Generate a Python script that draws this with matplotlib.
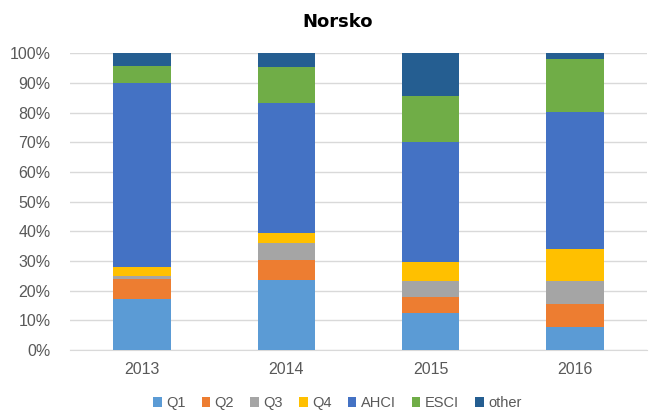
import numpy as np
import matplotlib.pyplot as plt
from matplotlib.ticker import PercentFormatter

plt.rcParams['font.family'] = ['Liberation Sans', 'DejaVu Sans']

years = ['2013', '2014', '2015', '2016']
series = ['Q1', 'Q2', 'Q3', 'Q4', 'AHCI', 'ESCI', 'other']
colors = ['#5B9BD5', '#ED7D31', '#A5A5A5', '#FFC000', '#4472C4', '#70AD47', '#255E91']

# podíly v %
q1 = [17.2, 23.5, 12.4, 7.6]
q2 = [6.6, 6.7, 5.5, 7.9]
q3 = [1.1, 5.8, 5.4, 7.9]
q4 = [3.2, 3.3, 6.4, 10.8]
ahci = [62.0, 43.8, 40.5, 46.1]
esci = [5.6, 12.4, 15.4, 17.8]
other = [4.3, 4.5, 14.4, 1.9]
values = [q1, q2, q3, q4, ahci, esci, other]

fig = plt.figure(figsize=(6.51, 4.16), dpi=100)
ax = fig.add_axes([70 / 651, 66 / 416, 577 / 651, 296.7 / 416])

x = np.arange(len(years))
bottom = np.zeros(len(years))
for name, vals, col in zip(series, values, colors):
    ax.bar(x, vals, 0.4, bottom=bottom, color=col, label=name, zorder=3)
    bottom += np.array(vals)

ax.set_xlim(-0.5, 3.5)
ax.set_ylim(0, 100)
ax.set_yticks(np.arange(0, 101, 10))
ax.yaxis.set_major_formatter(PercentFormatter(decimals=0))
ax.set_xticks(x)
ax.set_xticklabels(years)
ax.grid(axis='y', color='#D9D9D9', linewidth=1, zorder=0)
for s in ax.spines.values():
    s.set_visible(False)
ax.spines['bottom'].set_visible(True)
ax.spines['bottom'].set_color('#D9D9D9')
ax.tick_params(length=0, labelsize=11.5, colors='#595959')
ax.tick_params(axis='y', pad=14)
ax.tick_params(axis='x', pad=9)

fig.text(0.518, 0.947, 'Norsko', ha='center', va='center', fontsize=13,
         fontweight='bold', family='DejaVu Sans')

fig.legend(loc='center', bbox_to_anchor=(0.518, 0.031), ncol=7, frameon=False,
           fontsize=10.5, handlelength=0.6, handleheight=0.6, handletextpad=0.3,
           columnspacing=1.1, labelcolor='#595959')

fig.savefig('out.png', dpi=100)
